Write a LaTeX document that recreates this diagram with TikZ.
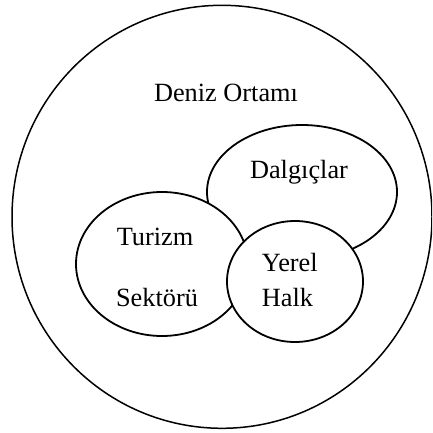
\documentclass[tikz,border=0pt]{standalone}
\usepackage{fontspec}
\setmainfont{Liberation Serif}
\usetikzlibrary{shapes.geometric}
\begin{document}
\begin{tikzpicture}[x=1pt,y=-1pt,
  set/.style={draw=black,line width=1.8pt,fill=white,ellipse,inner sep=0pt},
  lbl/.style={anchor=base,inner sep=0pt,font=\fontsize{26.3}{30}\selectfont}]
\useasboundingbox (0,0) rectangle (432,433);
\clip (0,0) rectangle (432,433);
\node[set,line width=1.5pt,minimum width=420pt,minimum height=423pt] (sea) at (222,216.8) {};
\node[set,minimum width=190pt,minimum height=134pt] (dal) at (302,192) {};
\node[set,minimum width=172pt,minimum height=144pt] (tur) at (162,264) {};
\node[set,minimum width=136pt,minimum height=121pt] (yer) at (295,281.5) {};
\node[lbl] (tsea) at (226,101.7) {Deniz Ortamı};
\node[lbl] (tdal) at (299,178.3) {Dalgıçlar};
\node[lbl] (ttur1) at (155,245) {Turizm};
\node[lbl] (ttur2) at (157,306.7) {Sektörü};
\node[lbl,anchor=base west] (tyer1) at (261.7,271.7) {Yerel};
\node[lbl,anchor=base west] (tyer2) at (261.7,306) {Halk};
\end{tikzpicture}
\end{document}
